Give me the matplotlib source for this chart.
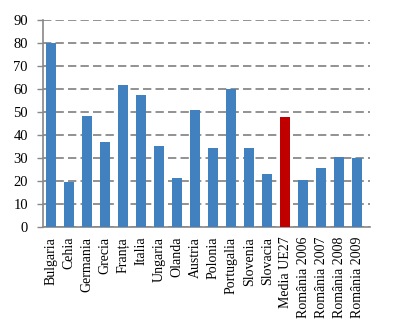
import matplotlib
matplotlib.use("Agg")
import matplotlib.pyplot as plt

tari = ["Bulgaria", "Cehia", "Germania", "Grecia", "Franța", "Italia", "Ungaria",
        "Olanda", "Austria", "Polonia", "Portugalia", "Slovenia", "Slovacia",
        "Media UE27", "România 2006", "România 2007", "România 2008", "România 2009"]
valori = [80, 19.7, 48.3, 36.8, 61.7, 57.2, 35.3, 21.3, 50.9, 34.4, 60.2, 34.4,
          23.2, 47.9, 20.6, 25.8, 30.6, 30.2]
yticks = [0, 10, 20, 30, 40, 50, 60, 70, 80, 90]

plt.rcParams['font.family'] = ['Liberation Serif', 'DejaVu Serif']

fig = plt.figure(figsize=(4, 3.33), dpi=100)
ax = fig.add_axes([0.108, 0.318, 0.817, 0.622])

culori = ['#C00000' if t == "Media UE27" else '#4281C0' for t in tari]
x = list(range(len(tari)))
ax.bar(x, valori, width=0.56, color=culori, zorder=3)

ax.set_ylim(0, 90)
ax.set_xlim(-0.45, len(tari) - 0.3)
ax.set_yticks(yticks)
ax.set_xticks(x)
ax.set_xticklabels(tari, rotation=90, fontsize=10)
ax.tick_params(axis='y', labelsize=10.5, length=4, color='#888888', width=1, pad=7)
ax.tick_params(axis='x', length=0, pad=7)

ax.yaxis.grid(True, linestyle=(0, (5, 2.5)), color='#7f7f7f', linewidth=1.2, zorder=0)
for s in ['top', 'right']:
    ax.spines[s].set_visible(False)
ax.spines['left'].set_color('#888888')
ax.spines['bottom'].set_color('#888888')
ax.spines['left'].set_linewidth(1.2)
ax.spines['bottom'].set_linewidth(1.2)

fig.savefig("out.png", dpi=100)
